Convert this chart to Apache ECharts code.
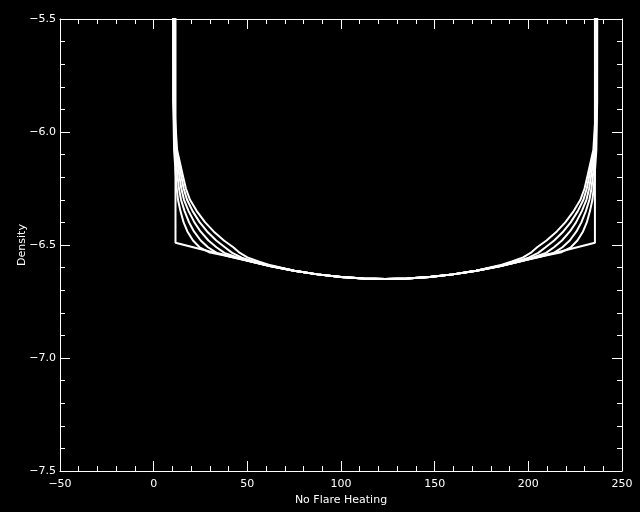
<!DOCTYPE html>
<html>
<head>
<meta charset="utf-8">
<script src="https://cdn.jsdelivr.net/npm/echarts@6/dist/echarts.min.js"></script>
<style>
html,body{margin:0;padding:0;background:#000;}
#chart{width:640px;height:512px;}
</style>
</head>
<body>
<div id="chart"></div>
<script>
// Axis ticks
const xTicks = [-50, 0, 50, 100, 150, 200, 250];
const yTicks = [-7.5, -7.0, -6.5, -6.0, -5.5];

// Shared bottom part of all curves
const trunkX = [75, 87.5, 100, 112, 123.6, 135.2, 147.2, 159.7, 172.2];
const trunkY = [-6.614, -6.630, -6.642, -6.648, -6.650, -6.648, -6.642, -6.630, -6.614];

// Curve A (hugs the wall)
const aLeftX  = [10.4, 10.45, 10.9, 11.8, 12.3, 13.0, 14.3, 16.0, 18.0, 21.0, 24.5, 29.5, 38, 50, 62.5];
const aLeftY  = [-4.0, -5.86, -6.08, -6.19, -6.25, -6.30, -6.35, -6.40, -6.44, -6.48, -6.51, -6.532, -6.547, -6.570, -6.594];
const aRightX = [184.7, 197.2, 209.2, 217.7, 222.7, 226.2, 229.2, 231.2, 232.9, 234.2, 234.9, 235.4, 236.3, 236.75, 236.8];
const aRightY = [-6.594, -6.570, -6.547, -6.532, -6.51, -6.48, -6.44, -6.40, -6.35, -6.30, -6.25, -6.19, -6.08, -5.86, -4.0];

// Curve B
const bLeftX  = [10.4, 10.55, 11.3, 12.7, 13.5, 14.6, 16.5, 18.9, 21.5, 25.1, 29.0, 33.6, 41, 50, 62.5];
const bLeftY  = [-4.0, -5.86, -6.08, -6.19, -6.25, -6.30, -6.35, -6.40, -6.44, -6.48, -6.51, -6.535, -6.550, -6.569, -6.594];
const bRightX = [184.7, 197.2, 206.2, 213.6, 218.2, 222.1, 225.7, 228.3, 230.7, 232.6, 233.7, 234.5, 235.9, 236.65, 236.8];
const bRightY = [-6.594, -6.569, -6.550, -6.535, -6.51, -6.48, -6.44, -6.40, -6.35, -6.30, -6.25, -6.19, -6.08, -5.86, -4.0];

// Curve C
const cLeftX  = [10.4, 10.65, 11.7, 13.65, 14.75, 16.2, 18.65, 21.75, 25.0, 29.25, 33.5, 37.75, 44, 52, 62.5];
const cLeftY  = [-4.0, -5.86, -6.08, -6.19, -6.25, -6.30, -6.35, -6.40, -6.44, -6.48, -6.51, -6.535, -6.553, -6.573, -6.593];
const cRightX = [184.7, 195.2, 203.2, 209.45, 213.7, 217.95, 222.2, 225.45, 228.55, 231.0, 232.45, 233.55, 235.5, 236.55, 236.8];
const cRightY = [-6.593, -6.573, -6.553, -6.535, -6.51, -6.48, -6.44, -6.40, -6.35, -6.30, -6.25, -6.19, -6.08, -5.86, -4.0];

// Curve D
const dLeftX  = [10.4, 10.75, 12.1, 14.6, 16.0, 17.8, 20.8, 24.6, 28.5, 33.4, 38.0, 41.9, 47, 54, 62.5];
const dLeftY  = [-4.0, -5.86, -6.08, -6.19, -6.25, -6.30, -6.35, -6.40, -6.44, -6.48, -6.51, -6.535, -6.556, -6.574, -6.592];
const dRightX = [184.7, 193.2, 200.2, 205.3, 209.2, 213.8, 218.7, 222.6, 226.4, 229.4, 231.2, 232.6, 235.1, 236.45, 236.8];
const dRightY = [-6.592, -6.574, -6.556, -6.535, -6.51, -6.48, -6.44, -6.40, -6.35, -6.30, -6.25, -6.19, -6.08, -5.86, -4.0];

// Curve E (widest)
const eLeftX  = [10.4, 10.85, 12.5, 15.5, 17.2, 19.4, 23.0, 27.5, 32.0, 37.5, 42.5, 46.0, 50, 56, 62.5];
const eLeftY  = [-4.0, -5.86, -6.08, -6.19, -6.25, -6.30, -6.35, -6.40, -6.44, -6.48, -6.51, -6.535, -6.555, -6.573, -6.590];
const eRightX = [184.7, 191.2, 197.2, 201.2, 204.7, 209.7, 215.2, 219.7, 224.2, 227.8, 230.0, 231.7, 234.7, 236.35, 236.8];
const eRightY = [-6.590, -6.573, -6.555, -6.535, -6.51, -6.48, -6.44, -6.40, -6.35, -6.30, -6.25, -6.19, -6.08, -5.86, -4.0];

// Coarse curve with corners
const kLeftX  = [11.65, 11.65, 40, 50, 62.5];
const kLeftY  = [-4.0, -6.49, -6.55, -6.569, -6.594];
const kRightX = [184.7, 197.2, 207.2, 235.55, 235.55];
const kRightY = [-6.594, -6.569, -6.55, -6.49, -4.0];

function build(lx, ly, rx, ry) {
  const pts = [];
  lx.forEach((x, i) => pts.push([x, ly[i]]));
  trunkX.forEach((x, i) => pts.push([x, trunkY[i]]));
  rx.forEach((x, i) => pts.push([x, ry[i]]));
  return pts;
}

const curves = [
  build(kLeftX, kLeftY, kRightX, kRightY),
  build(aLeftX, aLeftY, aRightX, aRightY),
  build(bLeftX, bLeftY, bRightX, bRightY),
  build(cLeftX, cLeftY, cRightX, cRightY),
  build(dLeftX, dLeftY, dRightX, dRightY),
  build(eLeftX, eLeftY, eRightX, eRightY)
];

const font = 'DejaVu Sans';
const fmt = (v, d) => {
  const s = Number(v).toFixed(d);
  return s.replace('-', '\u2212');
};

function xAx(pos, show) {
  return {
    type: 'value', position: pos, min: xTicks[0], max: xTicks[xTicks.length - 1], interval: 50,
    axisLine: { show: true, onZero: false, lineStyle: { color: '#fff', width: 1 } },
    axisTick: { show: true, inside: true, length: 10, lineStyle: { color: '#fff' } },
    minorTick: { show: true, splitNumber: 5, length: 5, lineStyle: { color: '#fff' } },
    splitLine: { show: false },
    axisLabel: { show: show, color: '#fff', fontFamily: font, fontSize: 11, margin: 8, formatter: v => fmt(v, 0) },
    name: show ? 'No Flare Heating' : '', nameLocation: 'middle', nameGap: 24,
    nameTextStyle: { color: '#fff', fontFamily: font, fontSize: 11 }
  };
}
function yAx(pos, show) {
  return {
    type: 'value', position: pos, min: yTicks[0], max: yTicks[yTicks.length - 1], interval: 0.5,
    axisLine: { show: true, onZero: false, lineStyle: { color: '#fff', width: 1 } },
    axisTick: { show: true, inside: true, length: 10, lineStyle: { color: '#fff' } },
    minorTick: { show: true, splitNumber: 5, length: 5, lineStyle: { color: '#fff' } },
    splitLine: { show: false },
    axisLabel: { show: show, color: '#fff', fontFamily: font, fontSize: 11, margin: 4, formatter: v => fmt(v, 1) }
  };
}

const chart = echarts.init(document.getElementById('chart'), null, { renderer: 'canvas' });
chart.setOption({
  backgroundColor: '#000',
  animation: false,
  grid: { left: 60, right: 18, top: 19, bottom: 41, containLabel: false },
  xAxis: [xAx('bottom', true), xAx('top', false)],
  yAxis: [yAx('left', true), yAx('right', false)],
  graphic: [{
    type: 'text', x: 22, y: 245, rotation: Math.PI / 2,
    style: { text: 'Density', fill: '#fff', font: '11px "DejaVu Sans"', align: 'center', verticalAlign: 'middle' }
  }],
  series: curves.map(c => ({
    type: 'line', data: c, xAxisIndex: 0, yAxisIndex: 0,
    showSymbol: false, clip: true, smooth: false,
    lineStyle: { color: '#fff', width: 2 }
  }))
});
</script>
</body>
</html>
